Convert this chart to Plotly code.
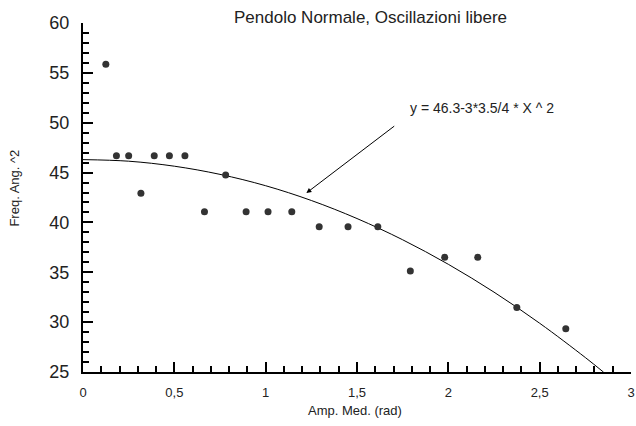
import plotly.graph_objects as go

# Measured data points
amp = [0.125, 0.183, 0.25, 0.317, 0.39, 0.473, 0.558, 0.665, 0.781, 0.893, 1.013,
       1.143, 1.293, 1.451, 1.614, 1.792, 1.98, 2.161, 2.375, 2.643]
freq2 = [55.86, 46.69, 46.69, 42.92, 46.69, 46.69, 46.69, 41.07, 44.75, 41.07, 41.07,
         41.07, 39.57, 39.57, 39.57, 35.13, 36.5, 36.5, 31.48, 29.34]

# Fit curve y = 46.3 - 3*3.5/4 * x^2 (values read at sample points)
fit_x = [0, 0.25, 0.5, 0.75, 1.0, 1.25, 1.5, 1.75, 2.0, 2.25, 2.5, 2.75, 2.85]
fit_y = [46.30, 46.14, 45.64, 44.82, 43.68, 42.20, 40.39, 38.26, 35.80, 33.01, 29.89, 26.45, 24.98]

x_ticks = [0, 0.5, 1, 1.5, 2, 2.5, 3]
y_ticks = [25, 30, 35, 40, 45, 50, 55, 60]

title_text = "Pendolo Normale, Oscillazioni libere"
eq_text = "y = 46.3-3*3.5/4 * X ^ 2"
x_title = "Amp. Med. (rad)"
y_title = "Freq. Ang. ^2"

FONT = "Liberation Sans, Arial, sans-serif"
TXT = "#222222"

fig = go.Figure()
fig.add_trace(go.Scatter(x=fit_x, y=fit_y, mode="lines", line=dict(color="black", width=1, shape="spline"),
                         showlegend=False, hoverinfo="skip"))
fig.add_trace(go.Scatter(x=amp, y=freq2, mode="markers",
                         marker=dict(color="#333333", size=7), showlegend=False))

fig.update_xaxes(range=[0, 3], tickvals=x_ticks, ticks="inside", ticklen=10, tickwidth=1.5,
                 tickcolor="black", showline=True, linecolor="black", linewidth=2,
                 showgrid=False, zeroline=False, ticklabelstandoff=7, ticklabeloverflow="allow",
                 tickfont=dict(family=FONT, size=13, color=TXT),
                 minor=dict(ticks="inside", dtick=0.1, ticklen=6, tickwidth=1.5, tickcolor="black", showgrid=False))
fig.update_yaxes(range=[25, 60], tickvals=y_ticks, ticks="inside", ticklen=10, tickwidth=1.5,
                 tickcolor="black", showline=True, linecolor="black", linewidth=2,
                 showgrid=False, zeroline=False, ticklabelstandoff=8,
                 tickfont=dict(family=FONT, size=18, color=TXT),
                 minor=dict(ticks="inside", dtick=1, ticklen=6, tickwidth=1.5, tickcolor="black", showgrid=False))

fig.add_annotation(x=1.223, y=42.95, ax=1.712, ay=49.77, axref="x", ayref="y", xref="x", yref="y",
                   text="", showarrow=True, arrowhead=2, arrowsize=1, arrowwidth=1, arrowcolor="black")
fig.add_annotation(x=2.185, y=51.5, xref="x", yref="y", text=eq_text, showarrow=False,
                   font=dict(family=FONT, size=14, color=TXT), xanchor="center", yanchor="middle")
fig.add_annotation(x=0.524, y=1.017, xref="paper", yref="paper", text=title_text, showarrow=False,
                   font=dict(family=FONT, size=17, color=TXT), xanchor="center", yanchor="middle")
fig.add_annotation(x=0.496, y=-0.109, xref="paper", yref="paper", text=x_title, showarrow=False,
                   font=dict(family=FONT, size=13, color=TXT), xanchor="center", yanchor="middle")
fig.add_annotation(x=-0.125, y=0.527, xref="paper", yref="paper", text=y_title, showarrow=False,
                   textangle=-90, font=dict(family=FONT, size=13, color=TXT), xanchor="center", yanchor="middle")

fig.update_layout(width=636, height=426, margin=dict(l=83, r=1, t=23, b=54),
                  plot_bgcolor="white", paper_bgcolor="white", separators=", ")

fig.write_html("out.html")
